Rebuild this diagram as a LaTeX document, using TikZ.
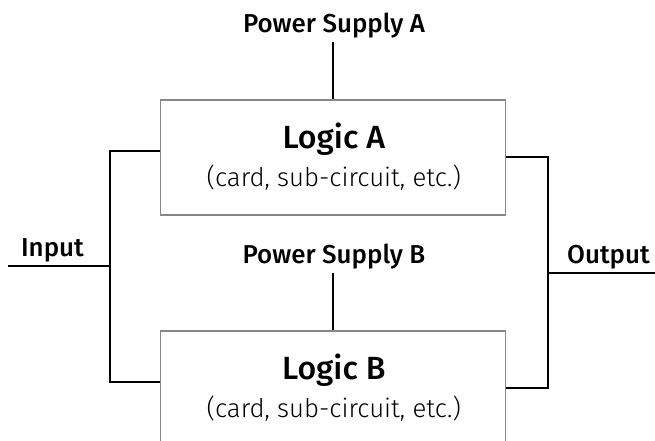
\documentclass[tikz,border=0pt]{standalone}
\usepackage{fontspec}
\setmainfont{Fira Sans}
\newfontfamily\medf{Fira Sans Medium}
\newfontfamily\lightf{Fira Sans Light}
\begin{document}
\begin{tikzpicture}[x=1pt,y=-1pt,
  logicbox/.style={draw=black!47,line width=1.3pt,minimum width=345pt,minimum height=115pt,inner sep=0pt},
  wire/.style={line width=2pt,black},
  lbl/.style={font=\fontsize{25.9}{30}\medf,inner sep=0pt,anchor=base},
  ttl/.style={font=\fontsize{32.1}{36}\medf,inner sep=0pt,anchor=base},
  sub/.style={font=\fontsize{25.8}{30}\lightf,inner sep=0pt,anchor=base}]
\useasboundingbox (0,0) rectangle (655,440);
\begin{scope}
\clip (0,0) rectangle (655,440);
\node[logicbox] (A) at (333,157.5) {};
\node[logicbox] (B) at (333,388.5) {};
\end{scope}
\node[ttl] (At) at (333.8,148.3) {Logic A};
\node[sub] (As) at (333.8,186.7) {(card, sub-circuit, etc.)};
\node[ttl] (Bt) at (333.8,379.3) {Logic B};
\node[sub] (Bs) at (333.8,417.7) {(card, sub-circuit, etc.)};
\node[lbl] (PA) at (334,32.3) {Power Supply A};
\node[lbl] (PB) at (334,263) {Power Supply B};
\node[lbl] (In) at (52.5,256.7) {Input};
\node[lbl] (Out) at (608.5,263.3) {Output};
\coordinate (pa) at (333,42);
\coordinate (pb) at (333,273);
\coordinate (ina) at (8,266);
\coordinate (inj) at (110,266);
\coordinate (outa) at (655,273);
\coordinate (outj) at (548,273);
\draw[wire] (pa) -- (A.north);
\draw[wire] (pb) -- (B.north);
\draw[wire] (A.west |- 0,151) -| (110,382) -- (B.west |- 0,382);
\draw[wire] (ina) -- (inj);
\draw[wire] (A.east |- 0,157) -| (548,388) -- (B.east |- 0,388);
\draw[wire] (outj) -- (outa);
\end{tikzpicture}
\end{document}
